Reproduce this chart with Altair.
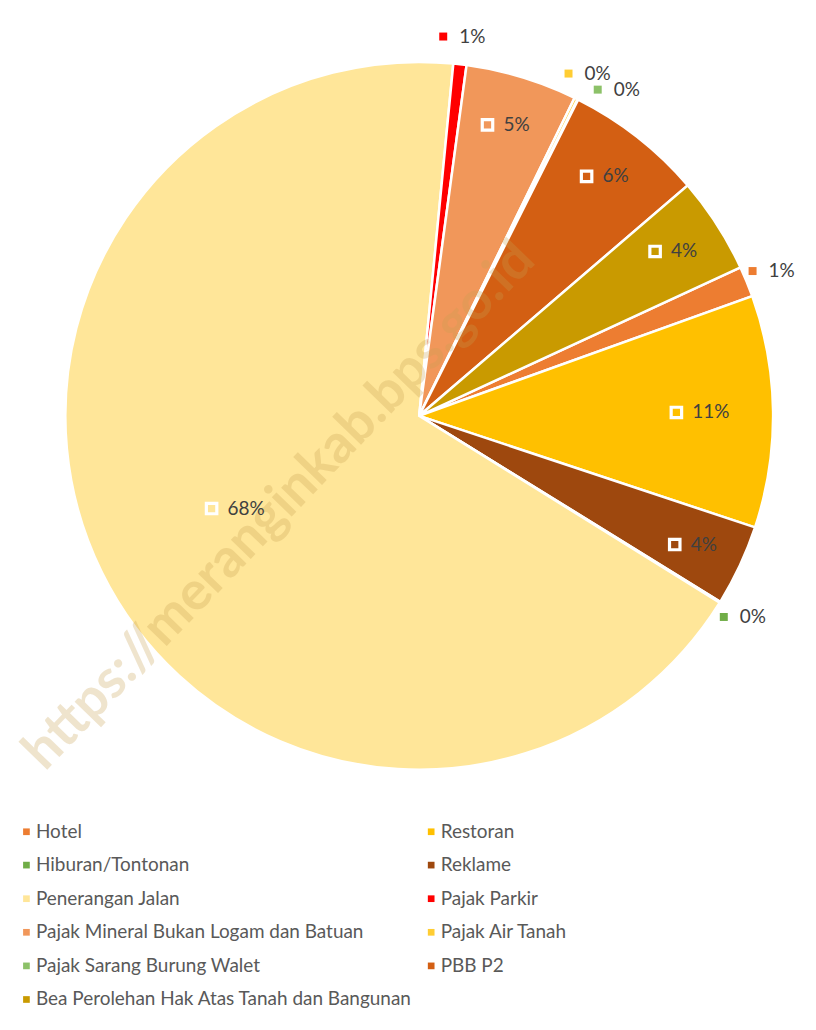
import math
import altair as alt
import pandas as pd

# ---- data (pie order, clockwise) ----
categories = [
    "Hotel", "Restoran", "Reklame", "Hiburan/Tontonan", "Penerangan Jalan",
    "Pajak Parkir", "Pajak Mineral Bukan Logam dan Batuan", "Pajak Air Tanah",
    "Pajak Sarang Burung Walet", "PBB P2", "Bea Perolehan Hak Atas Tanah dan Bangunan",
]
shares = [1.4, 10.6, 3.7, 0.05, 67.7, 0.6, 5.1, 0.15, 0.03, 6.3, 4.4]

# legend order and colours
legend_order = [
    "Hotel", "Restoran", "Hiburan/Tontonan", "Reklame", "Penerangan Jalan",
    "Pajak Parkir", "Pajak Mineral Bukan Logam dan Batuan", "Pajak Air Tanah",
    "Pajak Sarang Burung Walet", "PBB P2", "Bea Perolehan Hak Atas Tanah dan Bangunan",
]
legend_colors = [
    "#ED7D31", "#FFC000", "#70AD47", "#9E480E", "#FFE699",
    "#FF0000", "#F1975A", "#FFCD33", "#8CC168", "#D35F13", "#C99A00",
]
watermark_text = "https://meranginkab.bps.go.id"

# ---- layout ----
W, H = 780, 815
R = 355
cx, cy = W / 2, H / 2
a0 = math.radians(65.2)
total = sum(shares)

df = pd.DataFrame({"cat": categories, "pct": shares, "idx": list(range(len(categories)))})

color = alt.Color(
    "cat:N",
    scale=alt.Scale(domain=legend_order, range=legend_colors),
    legend=alt.Legend(
        title=None, orient="none", legendX=-13.5, legendY=815, columns=2,
        direction="horizontal",
        symbolType="square", symbolSize=45, symbolStrokeWidth=0,
        labelFont="Lato", labelFontSize=19, labelColor="#595959",
        rowPadding=13.7, columnPadding=9, labelOffset=0, labelLimit=600,
    ),
)

base = alt.Chart(df)

pie = base.mark_arc(outerRadius=R, stroke="white", strokeWidth=2.5).encode(
    theta=alt.Theta("pct:Q", stack=True,
                    scale=alt.Scale(domain=[0, total], range=[a0, a0 + 2 * math.pi])),
    color=color,
    order=alt.Order("idx:Q"),
)

lab = (
    base.transform_window(cum="sum(pct)", prev="lag(pct)",
                          sort=[alt.SortField("idx")], frame=[None, 0])
    .transform_calculate(prev2="isValid(datum.prev) ? datum.prev : 100")
    .transform_calculate(
        mid="datum.cum - datum.pct/2 + ((datum.pct < 1 && datum.prev2 < 1) ? 1.3 : 0)")
    .transform_calculate(ang=f"{a0} + 2*PI*datum.mid/{total}")
    .transform_calculate(
        r="datum.pct > 50 ? 210 : (datum.pct >= 8 ? 278 : (datum.pct >= 2 ? 305 : 383))")
    .transform_calculate(px=f"{cx} + datum.r*sin(datum.ang)",
                         py=f"{cy} - datum.r*cos(datum.ang)",
                         label="round(datum.pct) + '%'",
                         inside="datum.pct >= 2")
)

X = alt.X("px:Q", scale=None, axis=None)
Y = alt.Y("py:Q", scale=None, axis=None)

inside_marker = lab.transform_filter("datum.inside").mark_square(
    size=110, filled=False, color="white", strokeWidth=3.2, xOffset=-20, opacity=1
).encode(x=X, y=Y)

outside_marker = lab.transform_filter("!datum.inside").mark_square(
    size=64, opacity=1, xOffset=-20
).encode(x=X, y=Y, color=color)

labels = lab.mark_text(
    align="left", baseline="middle", dx=-4, font="Lato", fontSize=19, color="#404040"
).encode(x=X, y=Y, text="label:N")

wm = alt.Chart(pd.DataFrame({"t": [watermark_text]})).mark_text(
    angle=314, fontSize=54, font="Lato", fontWeight="bold",
    color="#C8A050", opacity=0.28, align="center", baseline="middle",
).encode(x=alt.value(250), y=alt.value(498), text="t:N")

chart = (
    alt.layer(pie, wm, inside_marker, outside_marker, labels)
    .properties(width=W, height=H, autosize="none",
                padding={"left": 22.5, "top": 0, "right": 0, "bottom": 200})
    .configure_view(stroke=None)
)

chart.save("out.html", embed_options={"renderer": "svg", "actions": False})
